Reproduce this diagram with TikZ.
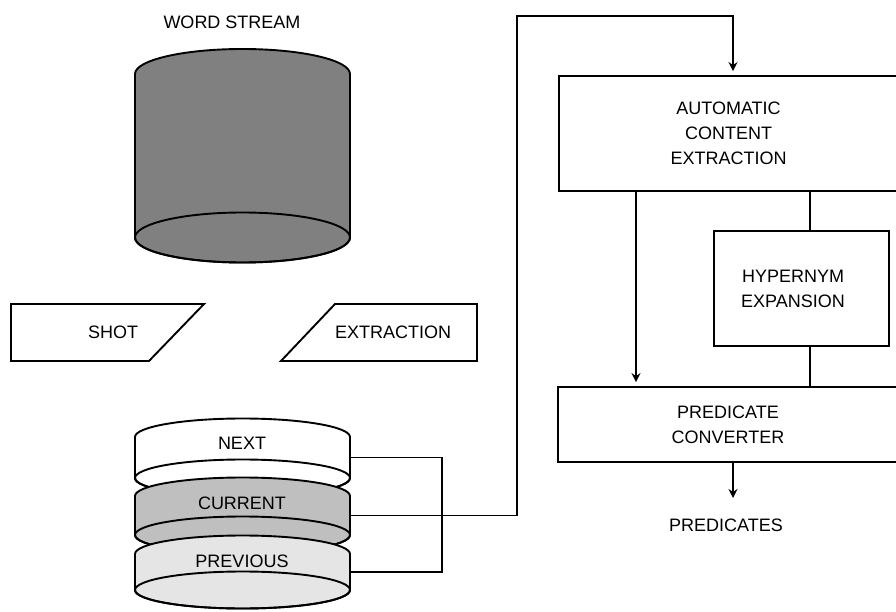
\documentclass[tikz,border=0pt]{standalone}
\usepackage{fontspec}
\setmainfont{Liberation Sans}
\usetikzlibrary{arrows.meta,calc}
\newcommand\drawdrum[5]{% #1 cx, #2 y top, #3 y bottom, #4 ry, #5 fill
  \filldraw[fill=#5] (#1-107.5,#2) arc[start angle=180,end angle=360,x radius=107.5,y radius=#4]
     -- (#1+107.5,#3) arc[start angle=0,end angle=180,x radius=107.5,y radius=#4] -- cycle;
  \draw (#1,#3) ellipse[x radius=107.5,y radius=#4];}
\begin{document}
\begin{tikzpicture}[x=1pt,y=-1pt,line width=1.9pt,
  every node/.style={font=\fontsize{18}{25}\selectfont,align=center,inner sep=0pt},
  boxnode/.style={draw,rectangle,inner sep=0pt},
  ghost/.style={rectangle,inner sep=0pt,minimum width=215pt},
  arr/.style={-{Stealth[length=9pt,width=9pt,inset=3pt]},shorten >=4pt}]
\useasboundingbox (0,0) rectangle (896,612);
\clip (0,0) rectangle (896,612);

% word stream cylinder
\node (wstitle) at (232,22) {WORD STREAM};
\drawdrum{242.5}{74}{237.5}{25}{black!50}
\node[ghost,minimum height=164pt] (wordstream) at (242.5,156) {};

% parallelograms
\draw (11,304) -- (204,304) -- (149,361) -- (11,361) -- cycle;
\node (shot) at (113,332) {SHOT};
\draw (335,304) -- (477,304) -- (477,361) -- (281,361) -- cycle;
\node (extr) at (393,332) {EXTRACTION};

% stacked drums
\drawdrum{242.5}{437}{478}{18.5}{white}
\drawdrum{242.5}{496}{535}{18.5}{black!25}
\drawdrum{242.5}{554}{590}{18.5}{black!10}
\node[ghost,minimum height=41pt] (next) at (242.5,457.5) {};
\node[ghost,minimum height=39pt] (current) at (242.5,515.5) {};
\node[ghost,minimum height=36pt] (previous) at (242.5,572) {};
\node at (242,443) {NEXT};
\node at (242,503) {CURRENT};
\node at (242,561) {PREVIOUS};

% boxes
\node[boxnode,minimum width=339pt,minimum height=115pt] (ace) at (728.5,133.5)
  {AUTOMATIC\\CONTENT\\EXTRACTION};
\node[boxnode,minimum width=175pt,minimum height=115pt] (hyp) at (801.5,288.5) {};
\node (hyptext) at (793,289) {HYPERNYM\\EXPANSION};
\node[boxnode,minimum width=340pt,minimum height=75pt] (pc) at (728,424.5)
  {PREDICATE\\CONVERTER};
\node (preds) at (726,525) {PREDICATES};

% connectors
\coordinate (bend) at (442,0);
\draw (next.east) -| (bend |- previous.east) -- (previous.east);
\draw (next.east -| bend) -- (next.east);
\coordinate (up) at (517,16);
\draw[arr] (current.east) -| (up) -| ([xshift=4.5]ace.north);
\draw[arr] ([xshift=-92.5]ace.south) -- ([xshift=-92.5]ace.south |- pc.north);
\draw ([xshift=8.5]hyp.north) -- ([xshift=8.5]hyp.north |- ace.south);
\draw ([xshift=8.5]hyp.south) -- ([xshift=8.5]hyp.south |- pc.north);
\coordinate (predtip) at (733,502);
\draw[arr] ([xshift=5]pc.south) -- (predtip);
\end{tikzpicture}
\end{document}
